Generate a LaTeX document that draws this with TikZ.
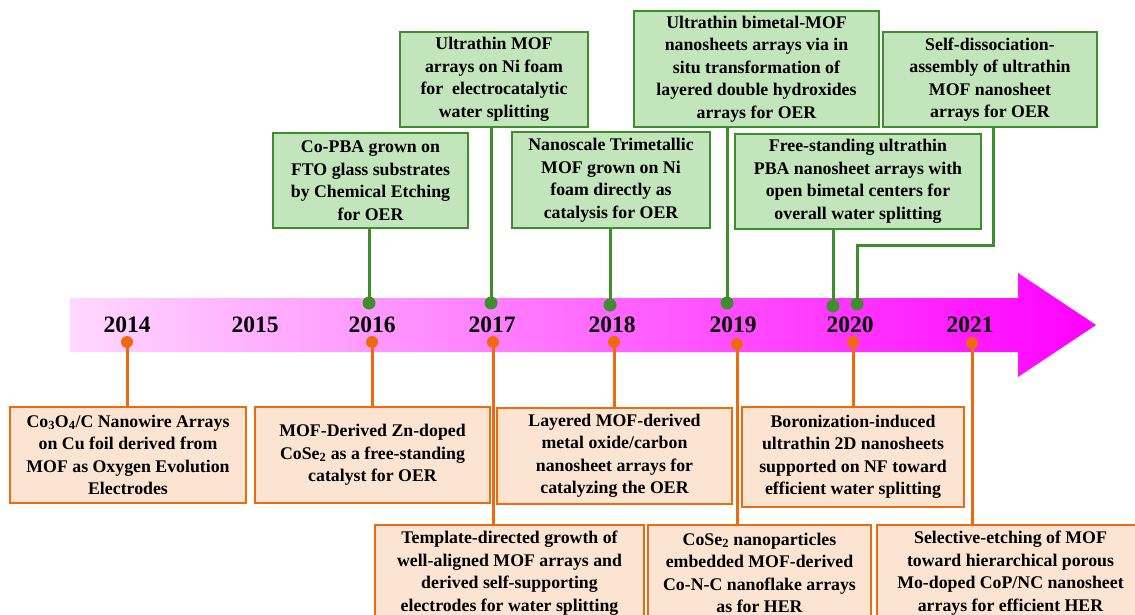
\documentclass[tikz,border=0pt]{standalone}
\usepackage{fontspec}
\setmainfont{Liberation Serif}
\definecolor{gfill}{HTML}{C3E5BC}
\definecolor{gline}{HTML}{3E8E2E}
\definecolor{ofill}{HTML}{FCE4D3}
\definecolor{oline}{HTML}{EE6A0E}
\definecolor{arrowL}{HTML}{FFD8FF}
\definecolor{arrowR}{HTML}{FF00FF}
\begin{document}
\begin{tikzpicture}[x=1pt,y=-1pt,
  gbox/.style={draw=gline,fill=gfill,line width=1.8pt,inner sep=0pt,align=center,
    font=\fontsize{17.8}{22.5}\selectfont\bfseries},
  obox/.style={draw=oline,fill=ofill,line width=1.8pt,inner sep=0pt,align=center,
    font=\fontsize{17.8}{22.5}\selectfont\bfseries},
  gwire/.style={draw=gline,line width=3pt},
  owire/.style={draw=oline,line width=3pt},
  gdot/.style={circle,fill=gline,inner sep=0pt,minimum size=13pt},
  odot/.style={circle,fill=oline,inner sep=0pt,minimum size=12pt},
  year/.style={font=\fontsize{23.5}{26}\selectfont\bfseries}]
\useasboundingbox (0,0) rectangle (1135,615);
\clip (0,0) rectangle (1135,615);
\fill[white] (0,0) rectangle (1135,615);
% time arrow
\shade[left color=arrowL,right color=arrowR]
  (70,298) -- (1018,298) -- (1018,273) -- (1096,325) -- (1018,377) -- (1018,352) -- (70,352) -- cycle;
\node[year] (y2014) at (127,325) {2014};
\node[year] (y2015) at (255,325) {2015};
\node[year] (y2016) at (372,325) {2016};
\node[year] (y2017) at (492,325) {2017};
\node[year] (y2018) at (612,325) {2018};
\node[year] (y2019) at (733,325) {2019};
\node[year] (y2020) at (850,325) {2020};
\node[year] (y2021) at (970,325) {2021};
% upper boxes
\node[gbox,minimum width=195,minimum height=95] (cpba) at (370.5,180.5)
  {Co-PBA grown on\\FTO glass substrates\\by Chemical Etching\\for OER};
\node[gbox,minimum width=188,minimum height=95] (nifoam) at (494,79.5)
  {Ultrathin MOF\\arrays on Ni foam\\for \ electrocatalytic\\water splitting};
\node[gbox,minimum width=198,minimum height=96] (trimet) at (611,180)
  {Nanoscale Trimetallic\\MOF grown on Ni\\foam directly as\\catalysis for OER};
\node[gbox,minimum width=245,minimum height=116] (bimet) at (756.5,69)
  {Ultrathin bimetal-MOF\\nanosheets arrays via in\\situ transformation of\\layered double hydroxides\\arrays for OER};
\node[gbox,minimum width=246,minimum height=95] (pba) at (858,181.5)
  {Free-standing ultrathin\\PBA nanosheet arrays with\\open bimetal centers for\\overall water splitting};
\node[gbox,minimum width=214,minimum height=95] (selfdis) at (990,79.5)
  {Self-dissociation-\\assembly of ultrathin\\MOF nanosheet\\arrays for OER};
% lower boxes
\node[obox,minimum width=236,minimum height=96] (cooc) at (128,455)
  {Co\textsubscript{3}O\textsubscript{4}/C Nanowire Arrays\\on Cu foil derived from\\MOF as Oxygen Evolution\\Electrodes};
\node[obox,minimum width=235,minimum height=96] (cose) at (372.5,455)
  {MOF-Derived Zn-doped\\CoSe\textsubscript{2} as a free-standing\\catalyst for OER};
\node[obox,minimum width=269,minimum height=96] (templ) at (509.5,573)
  {Template-directed growth of\\well-aligned MOF arrays and\\derived self-supporting\\electrodes for water splitting};
\node[obox,minimum width=235,minimum height=96] (layer) at (614.5,456)
  {Layered MOF-derived\\metal oxide/carbon\\nanosheet arrays for\\catalyzing the OER};
\node[obox,minimum width=223,minimum height=96] (conc) at (759.5,573)
  {CoSe\textsubscript{2} nanoparticles\\embedded MOF-derived\\Co-N-C nanoflake arrays\\as for HER};
\node[obox,minimum width=222,minimum height=100] (boron) at (853,457)
  {Boronization-induced\\ultrathin 2D nanosheets\\supported on NF toward\\efficient water splitting};
\node[obox,minimum width=267,minimum height=96] (etch) at (1010.5,573)
  {Selective-etching of MOF\\toward hierarchical porous\\Mo-doped CoP/NC nanosheet\\arrays for efficient HER};
% dots on the arrow
\coordinate (gd1) at (369,303);
\coordinate (gd2) at (491,303);
\coordinate (gd3) at (610,305);
\coordinate (gd4) at (727,303);
\coordinate (gd5) at (833,306);
\coordinate (gd6) at (857,304);
\coordinate (od1) at (127,342);
\coordinate (od2) at (372,342);
\coordinate (od3) at (493,342);
\coordinate (od4) at (614,342);
\coordinate (od5) at (737,344);
\coordinate (od6) at (853,342);
\coordinate (od7) at (972,343);
\coordinate (bend) at (993,245);
% connectors
\draw[gwire] (gd1) -- (gd1 |- cpba.south);
\draw[gwire] (gd2) -- (gd2 |- nifoam.south);
\draw[gwire] (gd3) -- (gd3 |- trimet.south);
\draw[gwire] (gd4) -- (gd4 |- bimet.south);
\draw[gwire] (gd5) -- (gd5 |- pba.south);
\draw[gwire] (gd6) |- (bend) -- (bend |- selfdis.south);
\draw[owire] (od1) -- (od1 |- cooc.north);
\draw[owire] (od2) -- (od2 |- cose.north);
\draw[owire] (od3) -- (od3 |- templ.north);
\draw[owire] (od4) -- (od4 |- layer.north);
\draw[owire] (od5) -- (od5 |- conc.north);
\draw[owire] (od6) -- (od6 |- boron.north);
\draw[owire] (od7) -- (od7 |- etch.north);
\foreach \d in {gd1,gd2,gd3,gd4,gd5,gd6}
  \node[gdot] at (\d) {};
\foreach \d in {od1,od2,od3,od4,od5,od6,od7}
  \node[odot] at (\d) {};
\end{tikzpicture}
\end{document}
